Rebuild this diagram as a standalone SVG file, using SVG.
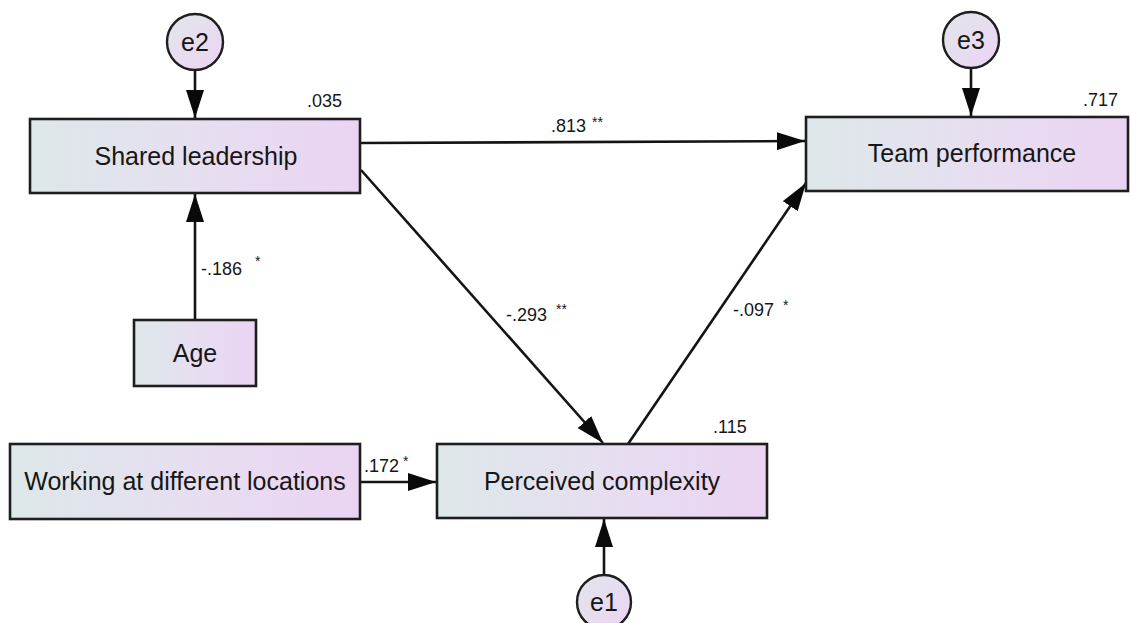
<svg xmlns="http://www.w3.org/2000/svg" width="1131" height="623" viewBox="0 0 1131 623">
  <style>
    .box { stroke: #1e1e1e; stroke-width: 2.6; fill: url(#boxFill); }
    .err { stroke: #1e1e1e; stroke-width: 2.4; fill: url(#errFill); }
    .name { font-family: "Liberation Sans", Arial, sans-serif; font-size: 25px; fill: #161616; text-anchor: middle; }
    .num { font-family: "Liberation Sans", Arial, sans-serif; font-size: 18px; fill: #161616; }
    .star { font-family: "Liberation Sans", Arial, sans-serif; font-size: 14px; fill: #161616; }
    .path { stroke: #141414; stroke-width: 2.6; fill: none; marker-end: url(#head); }
  </style>
  <defs>
    <linearGradient id="boxFill" x1="0" y1="0" x2="1" y2="0">
      <stop offset="0" stop-color="#dde8e9"/>
      <stop offset="0.5" stop-color="#e6dff0"/>
      <stop offset="1" stop-color="#ebd4f3"/>
    </linearGradient>
    <linearGradient id="errFill" x1="0" y1="0" x2="1" y2="1">
      <stop offset="0" stop-color="#e2e6ec"/>
      <stop offset="1" stop-color="#ebd4f3"/>
    </linearGradient>
    <marker id="head" viewBox="0 0 28 18" refX="28" refY="9" markerWidth="28" markerHeight="18" markerUnits="userSpaceOnUse" orient="auto">
      <path d="M0,0 L28,9 L0,18 Z" fill="#0a0a0a"/>
    </marker>
  </defs>

  <!-- paths between variables -->
  <g id="connectors">
    <line class="path" x1="195" y1="71" x2="195" y2="118"/>
    <line class="path" x1="971" y1="68" x2="971" y2="116"/>
    <line class="path" x1="604" y1="574" x2="604" y2="519"/>
    <line class="path" x1="195" y1="320" x2="195" y2="194"/>
    <line class="path" x1="361" y1="143" x2="805" y2="141"/>
    <line class="path" x1="361" y1="170" x2="603" y2="443"/>
    <line class="path" x1="628" y1="444" x2="806" y2="183"/>
    <line class="path" x1="361" y1="482" x2="436" y2="482"/>
  </g>

  <!-- path coefficients -->
  <g id="coefficients">
    <text class="num" x="551" y="132">.813</text><text class="star" x="592" y="127">**</text>
    <text class="num" x="201" y="275">-.186</text><text class="star" x="255" y="266">*</text>
    <text class="num" x="506" y="321">-.293</text><text class="star" x="556" y="314">**</text>
    <text class="num" x="733" y="316">-.097</text><text class="star" x="783" y="310">*</text>
    <text class="num" x="364" y="472">.172</text><text class="star" x="403" y="466">*</text>
  </g>

  <g id="e2">
    <circle class="err" cx="195" cy="42" r="28"/>
    <text class="name" x="195" y="51">e2</text>
  </g>

  <g id="e3">
    <circle class="err" cx="971" cy="40" r="28"/>
    <text class="name" x="971" y="49">e3</text>
  </g>

  <g id="e1">
    <circle class="err" cx="604" cy="602" r="27"/>
    <text class="name" x="604" y="611">e1</text>
  </g>

  <g id="shared-leadership">
    <rect class="box" x="30" y="119" width="330" height="74"/>
    <text class="name" x="196" y="165">Shared leadership</text>
    <text class="num" x="307" y="107">.035</text>
  </g>

  <g id="team-performance">
    <rect class="box" x="806" y="117" width="322" height="74"/>
    <text class="name" x="972" y="162">Team performance</text>
    <text class="num" x="1083" y="106">.717</text>
  </g>

  <g id="age">
    <rect class="box" x="134" y="320" width="122" height="66"/>
    <text class="name" x="195" y="362">Age</text>
  </g>

  <g id="working-locations">
    <rect class="box" x="10" y="444" width="350" height="75"/>
    <text class="name" x="185" y="490">Working at different locations</text>
  </g>

  <g id="perceived-complexity">
    <rect class="box" x="437" y="444" width="330" height="74"/>
    <text class="name" x="602" y="490">Perceived complexity</text>
    <text class="num" x="713" y="433">.115</text>
  </g>
</svg>
